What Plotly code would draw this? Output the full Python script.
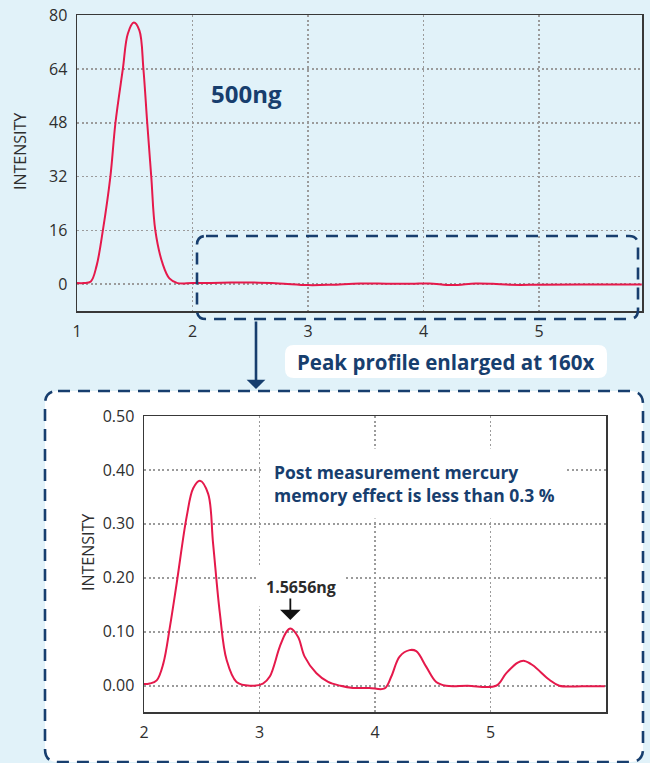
import plotly.graph_objects as go

# ---------------- data ----------------
# Top chart: 500 ng measurement
top_x = [1.00, 1.06, 1.12, 1.17, 1.224, 1.289, 1.333, 1.397, 1.44, 1.492, 1.54, 1.575,
         1.608, 1.643, 1.678, 1.742, 1.80, 1.87, 2.00, 2.25, 2.50, 2.75, 3.00, 3.20,
         3.45, 3.70, 3.90, 4.05, 4.25, 4.45, 4.60, 4.75, 5.00, 5.40, 5.89]
top_y = [0.3, 0.3, 0.8, 5.5, 16, 32, 48, 64, 74.5, 77.8, 75.5, 64,
         48, 32, 16, 6, 1.7, 0.3, 0.3, 0.4, 0.5, 0.2, -0.3, -0.2,
         0.2, 0.1, 0.1, 0.2, -0.3, 0.2, 0.1, -0.2, -0.2, -0.1, -0.1]
top_xticks = [1, 2, 3, 4, 5]
top_yticks = [0, 16, 32, 48, 64, 80]

# Bottom chart: peak profile enlarged 160x
bot_x = [2.00, 2.05, 2.11, 2.167, 2.225, 2.283, 2.369, 2.426, 2.484, 2.555, 2.598, 2.657,
         2.715, 2.801, 2.916, 3.03, 3.089, 3.175, 3.233, 3.267, 3.333, 3.391, 3.493, 3.594,
         3.70, 3.809, 3.95, 4.083, 4.141, 4.213, 4.299, 4.357, 4.444, 4.53, 4.616, 4.80,
         5.048, 5.135, 5.236, 5.294, 5.366, 5.51, 5.596, 5.80, 5.99]
bot_y = [0.003, 0.004, 0.01, 0.041, 0.11, 0.19, 0.313, 0.366, 0.38, 0.356, 0.264, 0.134,
         0.048, 0.007, 0.0, 0.004, 0.017, 0.072, 0.10, 0.106, 0.091, 0.054, 0.023, 0.007,
         0.0, -0.004, -0.004, -0.005, 0.017, 0.054, 0.066, 0.064, 0.035, 0.007, 0.0, 0.0,
         0.0, 0.023, 0.043, 0.046, 0.038, 0.011, 0.0, -0.001, -0.001]
bot_xticks = [2, 3, 4, 5]
bot_yticks = [0.0, 0.1, 0.2, 0.3, 0.4, 0.5]

# ---------------- style ----------------
W, H = 650, 763
BG = "#e1f2f9"
NAVY = "#173e6e"
RED = "#e5194b"
GRID = "#9b9b9b"
FRAME = "#383838"
TICK = "#2e2e2e"
FONT = "Open Sans"


def px(x):
    return x / W


def py(y):
    return 1 - y / H


def rounded_path(x0, y0, x1, y1, r):
    X0, X1 = px(x0), px(x1)
    Y0, Y1 = py(y0), py(y1)
    rx, ry = r / W, r / H
    return (f"M {X0+rx},{Y0} L {X1-rx},{Y0} Q {X1},{Y0} {X1},{Y0-ry} "
            f"L {X1},{Y1+ry} Q {X1},{Y1} {X1-rx},{Y1} "
            f"L {X0+rx},{Y1} Q {X0},{Y1} {X0},{Y1+ry} "
            f"L {X0},{Y0-ry} Q {X0},{Y0} {X0+rx},{Y0} Z")


fig = go.Figure()
fig.add_trace(go.Scatter(x=top_x, y=top_y, mode="lines", line=dict(color=RED, width=2, shape="spline"),
                         xaxis="x", yaxis="y", showlegend=False, hoverinfo="skip"))
fig.add_trace(go.Scatter(x=bot_x, y=bot_y, mode="lines", line=dict(color=RED, width=2, shape="spline"),
                         xaxis="x2", yaxis="y2", showlegend=False, hoverinfo="skip"))

axis_common = dict(showline=True, mirror=True, linecolor=FRAME, linewidth=1.5,
                   showgrid=True, gridcolor=GRID, gridwidth=1.6, griddash="2px,2.6px",
                   zeroline=False, ticks="", tickfont=dict(family=FONT, size=16, color=TICK),
                   fixedrange=True, automargin=False)

fig.update_layout(
    width=W, height=H,
    margin=dict(l=0, r=0, t=0, b=0, pad=0, autoexpand=False),
    paper_bgcolor=BG, plot_bgcolor="rgba(0,0,0,0)",
    xaxis=dict(axis_common, domain=[px(77), px(642)], range=[1, 5.892], tickvals=top_xticks,
               anchor="y", ticklabelstandoff=5),
    yaxis=dict(axis_common, domain=[py(311), py(15.2)], range=[-8, 80], tickvals=top_yticks,
               anchor="x", ticklabelstandoff=5),
    xaxis2=dict(axis_common, domain=[px(144), px(606)], range=[2, 6], tickvals=bot_xticks,
                anchor="y2", ticklabelstandoff=5),
    yaxis2=dict(axis_common, domain=[py(712), py(416)], range=[-0.0487, 0.5], tickvals=bot_yticks,
                tickformat=".2f", anchor="x2", ticklabelstandoff=5),
)

shapes = [
    # white enlarged panel
    dict(type="path", path=rounded_path(45, 391, 643, 762, 13), xref="paper", yref="paper",
         fillcolor="white", line=dict(color=NAVY, width=2.6, dash="12px,8px"), layer="below"),
    # dashed selection box on top chart
    dict(type="path", path=rounded_path(197, 236, 638, 319, 9), xref="paper", yref="paper",
         fillcolor="rgba(0,0,0,0)", line=dict(color=NAVY, width=2.6, dash="12px,8px"), layer="above"),
    # label pill
    dict(type="path", path=rounded_path(285, 345, 607, 378, 9), xref="paper", yref="paper",
         fillcolor="white", line=dict(width=0), layer="above"),
]
fig.update_layout(shapes=shapes)

annotations = [
    dict(text="INTENSITY", x=px(20), y=py(152), xref="paper", yref="paper", showarrow=False,
         xanchor="center", yanchor="middle",
         textangle=-90, font=dict(family=FONT, size=16, color=TICK)),
    dict(text="INTENSITY", x=px(88), y=py(553), xref="paper", yref="paper", showarrow=False,
         xanchor="center", yanchor="middle",
         textangle=-90, font=dict(family=FONT, size=16, color=TICK)),
    dict(text="<b>500ng</b>", x=px(246), y=py(93), xref="paper", yref="paper", showarrow=False,
         xanchor="center", yanchor="middle",
         font=dict(family=FONT, size=24, color=NAVY)),
    dict(text="<b>Peak profile enlarged at 160x</b>", x=px(446), y=py(361.5), xref="paper", yref="paper",
         xanchor="center", yanchor="middle",
         showarrow=False, font=dict(family=FONT, size=20.5, color=NAVY)),
    # big arrow
    dict(text="", x=px(256), y=py(389), xref="paper", yref="paper", showarrow=True,
         ax=0, ay=-69, axref="pixel", ayref="pixel", arrowhead=1, arrowsize=1.2, arrowwidth=2.6,
         arrowcolor=NAVY, standoff=0, startstandoff=0),
    dict(text="<b>Post measurement mercury<br>memory effect is less than 0.3 %</b>",
         x=px(262), y=py(483), xref="paper", yref="paper", xanchor="left", yanchor="middle",
         align="left", showarrow=False, bgcolor="white", borderpad=11,
         font=dict(family=FONT, size=17.5, color=NAVY)),
    dict(text="<b>1.5656ng</b>", x=px(301), y=py(587), xref="paper", yref="paper", showarrow=False,
         xanchor="center", yanchor="middle",
         bgcolor="white", borderpad=8, font=dict(family=FONT, size=16, color="#2b2b2b")),
    # small arrow to second peak
    dict(text="", x=3.267, y=0.122, xref="x2", yref="y2", showarrow=True,
         ax=0, ay=-23, axref="pixel", ayref="pixel", arrowhead=1, arrowsize=1.9, arrowwidth=1.8,
         arrowcolor="#111111", standoff=0, startstandoff=0),
]
fig.update_layout(annotations=annotations)

fig.write_html(
    "out.html",
    config={"displayModeBar": False, "staticPlot": True},
    post_script=f"document.body.style.margin='0';document.body.style.background='{BG}';"
                "document.documentElement.style.overflow='hidden';",
)
